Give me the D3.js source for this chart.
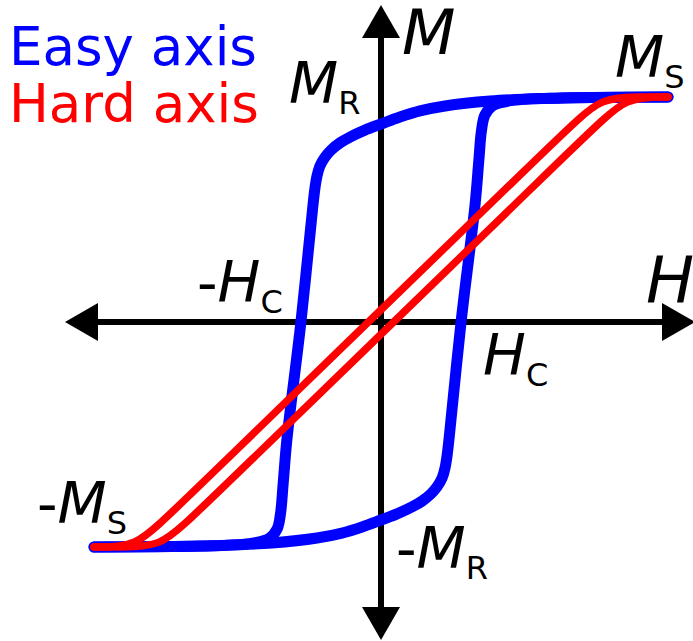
<!DOCTYPE html>
<html>
<head>
<meta charset="utf-8">
<script src="https://cdn.jsdelivr.net/npm/d3@7"></script>
<style>
  html, body { margin: 0; padding: 0; background: #fff; }
  svg { display: block; }
</style>
</head>
<body>
<svg id="chart" width="693" height="641"></svg>
<script>
// Magnetisation loops in reduced units: H / H_sat on x, M / M_s on y.

// Easy axis, descending branch (from +M_s down to -M_s)
const easyDescending = [
  [1, 1], [0.763, 0.998], [0.554, 0.993], [0.380, 0.982], [0.223, 0.960],
  [0.136, 0.938], [0.066, 0.911], [0, 0.880], [-0.056, 0.853], [-0.108, 0.822],
  [-0.143, 0.796], [-0.174, 0.764], [-0.195, 0.733], [-0.213, 0.693],
  [-0.223, 0.649], [-0.230, 0.596], [-0.237, 0.520], [-0.279, 0],
  [-0.328, -0.524], [-0.341, -0.720], [-0.350, -0.850], [-0.362, -0.920],
  [-0.390, -0.962], [-0.460, -0.985], [-0.631, -0.996], [-1, -1]
];

// Easy axis, ascending branch (from -M_s up to +M_s)
const easyAscending = [
  [-1, -1], [-0.763, -0.998], [-0.554, -0.993], [-0.380, -0.982], [-0.223, -0.960],
  [-0.136, -0.938], [-0.066, -0.911], [0, -0.880], [0.056, -0.853], [0.108, -0.822],
  [0.143, -0.796], [0.174, -0.764], [0.195, -0.733], [0.213, -0.693],
  [0.223, -0.649], [0.230, -0.596], [0.237, -0.520], [0.279, 0],
  [0.328, 0.524], [0.341, 0.720], [0.350, 0.850], [0.362, 0.920],
  [0.390, 0.962], [0.460, 0.985], [0.631, 0.996], [1, 1]
];

// Hard axis, spline control points of the two nearly straight branches
const hardDescending = [
  [1, 1], [0.92, 1], [0.764, 1], [0.654, 0.863], [-0.742, -0.863], [-0.852, -1], [-1, -1]
];
const hardAscending = [
  [-1, -1], [-0.92, -1], [-0.764, -1], [-0.654, -0.863], [0.742, 0.863], [0.852, 1], [1, 1]
];

const legendNames = ["Easy axis", "Hard axis"];
const axisNames = ["H", "M"];

const BLUE = "#0000ff", RED = "#ff0000";
const FONT = "'DejaVu Sans', Verdana, sans-serif";

const svg = d3.select("#chart");
const x = d3.scaleLinear().domain([-1, 1]).range([94, 668]);
const y = d3.scaleLinear().domain([-1, 1]).range([547, 97]);
const cx = x(0), cy = y(0);

// ---- axes with arrow heads ----
const axes = svg.append("g");
axes.append("line")
  .attr("x1", 96).attr("x2", 666).attr("y1", cy).attr("y2", cy)
  .attr("stroke", "#000").attr("stroke-width", 6);
axes.append("line")
  .attr("x1", cx).attr("x2", cx).attr("y1", 36).attr("y2", 608)
  .attr("stroke", "#000").attr("stroke-width", 6);

const head = 33, half = 19;
const heads = [
  [[65, cy], [65 + head, cy - half], [65 + head, cy + half]],
  [[695, cy], [695 - head, cy - half], [695 - head, cy + half]],
  [[cx, 5], [cx - half, 5 + head], [cx + half, 5 + head]],
  [[cx, 640], [cx - half, 640 - head], [cx + half, 640 - head]]
];
axes.selectAll("path.head").data(heads).join("path")
  .attr("class", "head")
  .attr("d", d => "M" + d.map(p => p.join(",")).join("L") + "Z")
  .attr("fill", "#000");

// ---- loops ----
const easyLine = d3.line()
  .x(d => x(d[0])).y(d => y(d[1]))
  .curve(d3.curveCatmullRom.alpha(0.5));
const hardLine = d3.line()
  .x(d => x(d[0])).y(d => y(d[1]))
  .curve(d3.curveBasis);

svg.append("g").selectAll("path").data([easyDescending, easyAscending]).join("path")
  .attr("d", easyLine)
  .attr("fill", "none").attr("stroke", BLUE).attr("stroke-width", 11)
  .attr("stroke-linecap", "round").attr("stroke-linejoin", "round");

svg.append("g").selectAll("path").data([hardDescending, hardAscending]).join("path")
  .attr("d", hardLine)
  .attr("fill", "none").attr("stroke", RED).attr("stroke-width", 7.5)
  .attr("stroke-linecap", "round").attr("stroke-linejoin", "round");

// ---- legend ----
svg.append("g").selectAll("text").data(legendNames).join("text")
  .attr("x", 9).attr("y", (d, i) => 65 + i * 57)
  .attr("font-family", FONT).attr("font-size", 53)
  .attr("fill", (d, i) => i === 0 ? BLUE : RED)
  .text(d => d);

// ---- axis names ----
svg.append("text").attr("x", 646).attr("y", 302)
  .attr("font-family", FONT).attr("font-size", 64).attr("font-style", "italic")
  .text(axisNames[0]);
svg.append("text").attr("x", 402).attr("y", 54)
  .attr("font-family", FONT).attr("font-size", 62).attr("font-style", "italic")
  .text(axisNames[1]);

// ---- characteristic points ----
function mark(px, py, sign, main, sub) {
  const t = svg.append("text").attr("x", px).attr("y", py)
    .attr("font-family", FONT).attr("font-size", 57).attr("fill", "#000");
  if (sign) t.append("tspan").text(sign);
  t.append("tspan").attr("font-style", "italic").text(main);
  t.append("tspan").attr("font-size", 32).attr("dy", 11).text(sub);
}
mark(615, 77, "", "M", "S");
mark(289, 103, "", "M", "R");
mark(197, 302, "-", "H", "C");
mark(483, 375, "", "H", "C");
mark(37, 523, "-", "M", "S");
mark(396, 568, "-", "M", "R");
</script>
</body>
</html>
